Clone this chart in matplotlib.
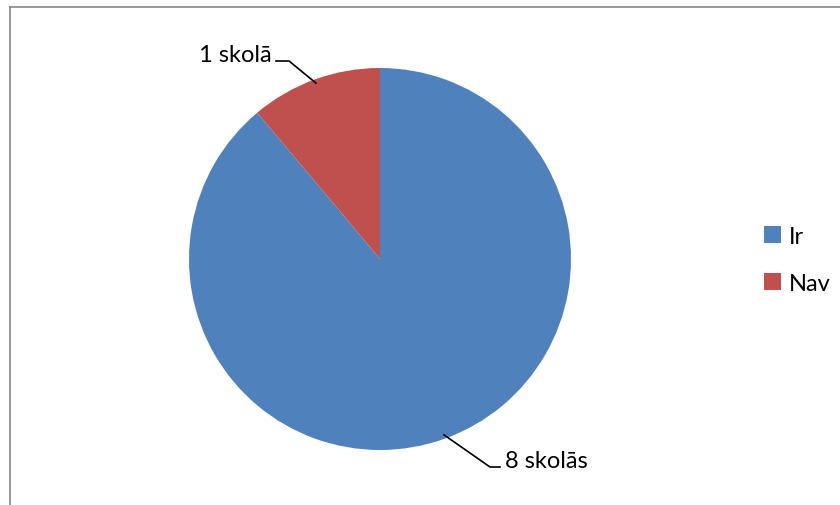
import matplotlib.pyplot as plt
from matplotlib.lines import Line2D
import numpy as np

categories = ["Ir", "Nav"]
values = [8, 1]
value_labels = ["8 skolās", "1 skolā"]
colors = ["#4F81BD", "#C0504D"]

plt.rcParams['font.family'] = ['Lato', 'DejaVu Sans']

W, H = 840, 506
fig = plt.figure(figsize=(W / 100, H / 100), dpi=100)

# chart frame (only left and top edges are visible)
fig.add_artist(Line2D([10 / W, 10 / W], [0, 1 - 8 / H], color="#868686", lw=1.2))
fig.add_artist(Line2D([10 / W, 1], [1 - 8 / H, 1 - 8 / H], color="#868686", lw=1.2))

cx, cy, r = 380, 260, 191
ax = fig.add_axes([(cx - r) / W, 1 - (cy + r) / H, 2 * r / W, 2 * r / H])
wedges, _ = ax.pie(values, colors=colors, startangle=90, counterclock=False,
                   radius=1, wedgeprops=dict(linewidth=0))
ax.set_xlim(-1, 1)
ax.set_ylim(-1, 1)
ax.set_aspect('equal')
ax.axis('off')

# leader lines with labels: (elbow, end of horizontal, text x) in pixels
leaders = [((490, 468), (500, 468), 505, 'left'),
           ((289, 62), (276, 62), 272, 'right')]
for w, lab, (elb, hend, tx, ha) in zip(wedges, value_labels, leaders):
    ang = np.deg2rad((w.theta1 + w.theta2) / 2)
    px = [np.cos(ang) * 0.98, (elb[0] - cx) / r, (hend[0] - cx) / r]
    py = [np.sin(ang) * 0.98, -(elb[1] - cy) / r, -(hend[1] - cy) / r]
    ax.plot(px, py, color="black", lw=1.2, clip_on=False)
    ax.text((tx - cx) / r, -(elb[1] - cy) / r, lab, ha=ha, va='baseline',
            fontsize=17, clip_on=False)

leg = fig.legend(wedges, categories, loc='center left',
                 bbox_to_anchor=(743 / W, 1 - 261 / H), frameon=False,
                 fontsize=17, handlelength=0.7, handleheight=0.7,
                 handletextpad=0.35, labelspacing=1.1)

fig.savefig("out.png", dpi=100)
